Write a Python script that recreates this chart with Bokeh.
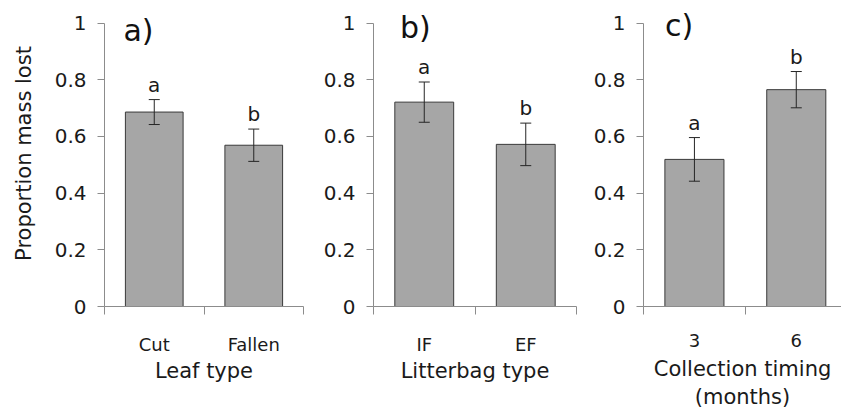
from bokeh.plotting import figure
from bokeh.layouts import row
from bokeh.models import ColumnDataSource, Whisker, TeeHead, FixedTicker, Label
from bokeh.core.properties import value
from bokeh.embed import file_html
from bokeh.resources import INLINE

# ---- data ----
leaf_types = ["Cut", "Fallen"]
leaf_means = [0.686, 0.569]
leaf_err = [0.044, 0.057]
leaf_letters = ["a", "b"]

bag_types = ["IF", "EF"]
bag_means = [0.721, 0.572]
bag_err = [0.071, 0.075]
bag_letters = ["a", "b"]

timing = ["3", "6"]
timing_means = [0.519, 0.765]
timing_err = [0.077, 0.064]
timing_letters = ["a", "b"]

y_ticks = [0, 0.2, 0.4, 0.6, 0.8, 1.0]
y_tick_labels = ["0", "0.2", "0.4", "0.6", "0.8", "1"]

FONT = "DejaVu Sans"
TEXT = "#1a1a1a"
AXIS = "#8c8c8c"
BAR = "#a6a6a6"


def panel(cats, means, errs, letters, xlabel, tag, width, left, right,
          x_end, tag_x, tag_y, title_standoff, ylabel=None):
    n = len(cats)
    xs = [i + 0.5 for i in range(n)]
    src = ColumnDataSource(dict(
        x=xs, top=means,
        upper=[m + e for m, e in zip(means, errs)],
        lower=[m - e for m, e in zip(means, errs)],
        letter=letters,
    ))
    p = figure(width=width, height=412, x_range=(0, x_end),
               y_range=(0, 1 + 23 / 289),
               output_backend="svg", toolbar_location=None,
               min_border_left=left, min_border_right=right,
               min_border_top=0, min_border_bottom=100)
    p.outline_line_color = None
    p.xgrid.visible = False
    p.ygrid.visible = False
    p.background_fill_color = "white"
    p.border_fill_color = "white"

    p.vbar(x="x", top="top", width=0.58, bottom=0, source=src,
           fill_color=BAR, line_color="#3a3a3a", line_width=1)

    w = Whisker(base="x", upper="upper", lower="lower", source=src,
                dimension="height", line_color="#262626", line_width=1,
                level="overlay",
                upper_head=TeeHead(size=11, line_color="#262626", line_width=1),
                lower_head=TeeHead(size=11, line_color="#262626", line_width=1))
    p.add_layout(w)

    p.text(x="x", y="upper", text="letter", source=src, y_offset=-15,
           text_align="center", text_baseline="middle",
           text_font=value(FONT), text_font_size="20px", text_color=TEXT)

    # y axis
    ya = p.yaxis[0]
    ya.bounds = (0, 1)
    ya.ticker = FixedTicker(ticks=y_ticks, minor_ticks=[])
    ya.major_label_overrides = {t: l for t, l in zip(y_ticks, y_tick_labels)}
    ya.axis_line_color = AXIS
    ya.major_tick_line_color = AXIS
    ya.major_tick_out = 7
    ya.major_tick_in = 0
    ya.minor_tick_line_color = None
    ya.major_label_standoff = 11
    ya.major_label_text_font = FONT
    ya.major_label_text_font_size = "20px"
    ya.major_label_text_color = TEXT
    if ylabel:
        ya.axis_label = ylabel
        ya.axis_label_text_font = FONT
        ya.axis_label_text_font_size = "21px"
        ya.axis_label_text_font_style = "normal"
        ya.axis_label_text_color = TEXT
        ya.axis_label_standoff = 16

    # x axis
    xa = p.xaxis[0]
    xa.ticker = FixedTicker(ticks=xs, minor_ticks=list(range(n + 1)))
    xa.major_label_overrides = {x: c for x, c in zip(xs, cats)}
    xa.axis_line_color = AXIS
    xa.major_tick_line_color = None
    xa.major_tick_out = 0
    xa.major_tick_in = 0
    xa.minor_tick_line_color = AXIS
    xa.minor_tick_out = 8
    xa.minor_tick_in = 0
    xa.major_label_standoff = 19
    xa.major_label_text_font = FONT
    xa.major_label_text_font_size = "18px"
    xa.major_label_text_color = TEXT
    xa.axis_label = xlabel
    xa.axis_label_text_font = FONT
    xa.axis_label_text_font_size = "21px"
    xa.axis_label_text_font_style = "normal"
    xa.axis_label_text_color = TEXT
    xa.axis_label_standoff = title_standoff

    p.add_layout(Label(x=tag_x, y=tag_y, text=tag, text_font=FONT,
                       text_font_size="30px", text_color="#111111",
                       text_baseline="middle", text_align="left"))
    return p


pa = panel(leaf_types, leaf_means, leaf_err, leaf_letters, "Leaf type", "a)",
           320, 104, 17, 2.0, 0.19, 0.972, 1, ylabel="Proportion mass lost")
pb = panel(bag_types, bag_means, bag_err, bag_letters, "Litterbag type", "b)",
           270, 48, 14, 2.0, 0.26, 0.983, 1)
pc = panel(timing, timing_means, timing_err, timing_letters,
           "Collection timing\n(months)", "c)",
           251, 50, 0, 1.944, 0.21, 0.99, 7)

layout = row(pa, pb, pc, spacing=0)
open("out.html", "w").write(file_html(layout, INLINE))
